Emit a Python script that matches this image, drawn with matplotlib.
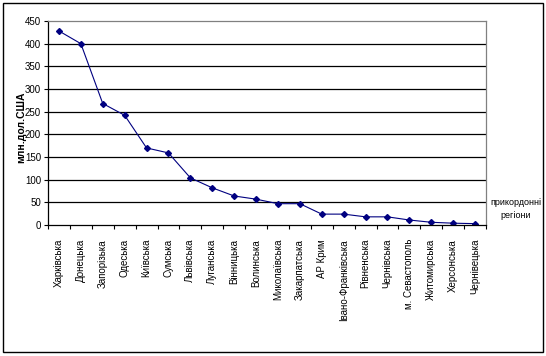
import matplotlib.pyplot as plt
from matplotlib.patches import Rectangle

regions = ['Харківська', 'Донецька', 'Запорізька', 'Одеська', 'Київська',
           'Сумська', 'Львівська', 'Луганська', 'Вінницька', 'Волинська',
           'Миколаївська', 'Закарпатська', 'АР Крим', 'Івано-Франківська',
           'Рівненська', 'Чернівська', 'м. Севастополь', 'Житомирська',
           'Херсонська', 'Чернівецька']
values = [428, 400, 268, 242, 170, 159, 104, 82, 64, 57,
          47, 47, 24, 24, 18, 18, 11, 6, 4, 3]
yticks = list(range(0, 451, 50))

plt.rcParams['font.family'] = ['Liberation Sans', 'DejaVu Sans']

fig = plt.figure(figsize=(5.46, 3.56), dpi=100)
ax = fig.add_axes([48/546, 1-225/356, (486-48)/546, (225-21)/356])

x = list(range(len(regions)))
ax.plot(x, values, '-', color='#000080', lw=0.8, marker='D', ms=3,
        mfc='#000080', mec='#000080')

ax.set_xlim(-0.5, len(regions) - 0.5)
ax.set_ylim(0, 450)
ax.set_yticks(yticks)
ax.set_yticklabels([str(v) for v in yticks], fontsize=7)
ax.set_xticks(x)
ax.set_xticklabels(regions, rotation=90, fontsize=7)
ax.set_xticks([i - 0.5 for i in range(len(regions) + 1)], minor=True)
ax.tick_params(axis='x', which='major', length=0, pad=10)
ax.tick_params(axis='x', which='minor', length=3, width=0.8, direction='out')
ax.tick_params(axis='y', length=3, width=0.8, pad=2)

for v in yticks[1:-1]:
    ax.axhline(v, color='black', lw=0.9, zorder=0)

for s in ['left', 'bottom']:
    ax.spines[s].set_color('black')
    ax.spines[s].set_linewidth(0.9)
for s in ['top', 'right']:
    ax.spines[s].set_color('#808080')
    ax.spines[s].set_linewidth(0.9)

fig.text(21/546, 1-127/356, 'млн.дол.США', rotation=90, fontsize=7.5,
         fontweight='bold', ha='center', va='center')
fig.text(516/546, 1-209/356, 'прикордонні\nрегіони', fontsize=6.5,
         ha='center', va='center', linespacing=1.5)

fig.patches.append(Rectangle((3/546, 4/356), 540/546, 349/356,
                             transform=fig.transFigure, fill=False,
                             edgecolor='black', lw=1))

fig.savefig('out.png', dpi=100)
